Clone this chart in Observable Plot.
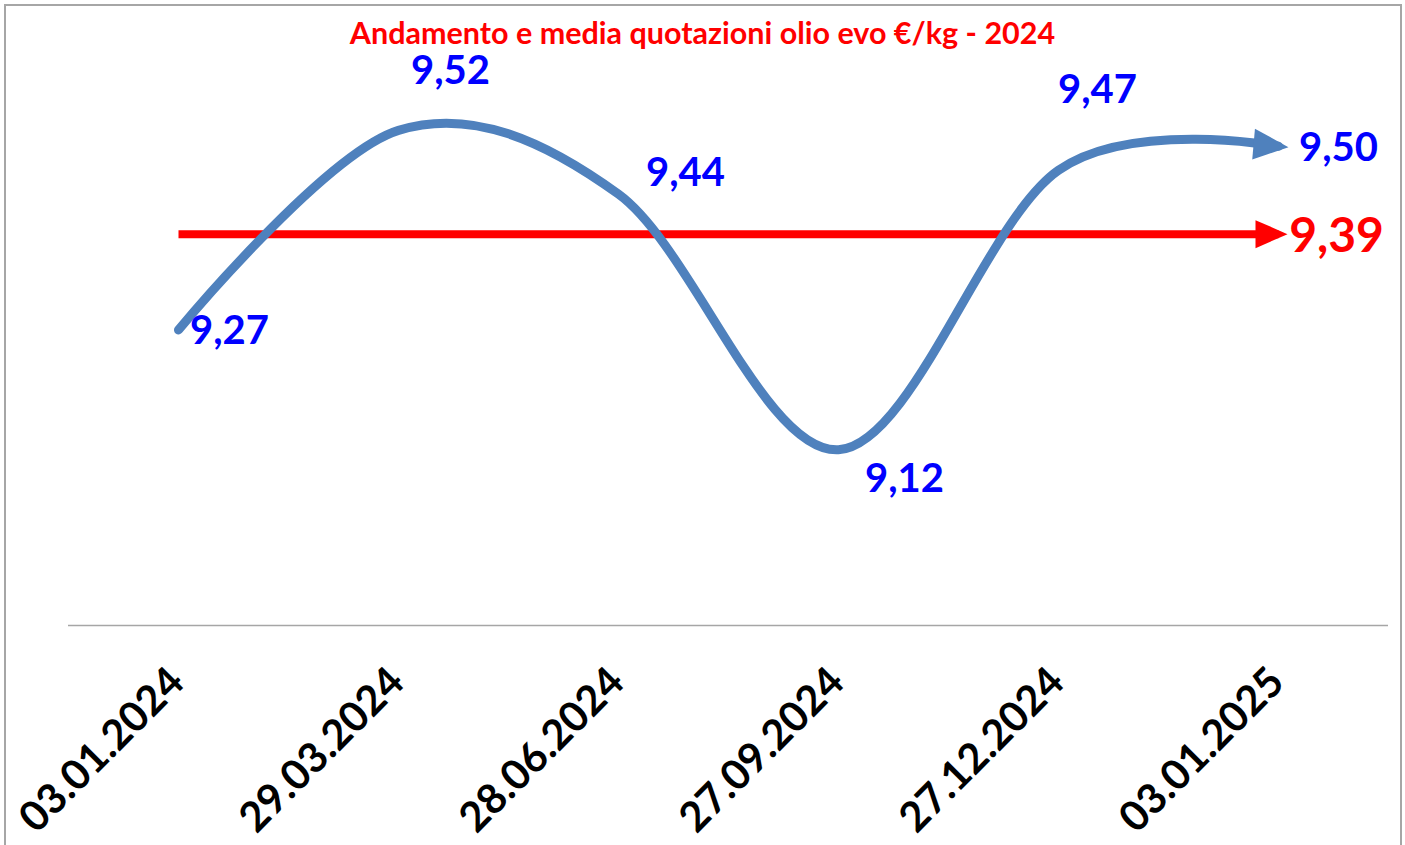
<!DOCTYPE html>
<html>
<head>
<meta charset="utf-8">
<script src="https://cdn.jsdelivr.net/npm/d3@7"></script>
<script src="https://cdn.jsdelivr.net/npm/@observablehq/plot@0.6"></script>
<style>
  html, body { margin: 0; padding: 0; background: #fff; overflow: hidden; }
  #wrap { position: relative; width: 1405px; height: 845px; }
  #title { position: absolute; left: 0; top: 17px; width: 1405px; text-align: center;
    font-family: Lato, "Open Sans", sans-serif; font-weight: bold; font-size: 30.5px; line-height: 1;
    color: #ff0000; z-index: 2; }
  #border { position: absolute; left: 4px; top: 4px; width: 1398px; height: 870px;
    box-sizing: border-box; border: 2px solid #a6a6a6; pointer-events: none; z-index: 3; }
  #chart svg { display: block; }
</style>
</head>
<body>
<div id="wrap">
  <div id="title">Andamento e media quotazioni olio evo €/kg - 2024</div>
  <div id="chart"></div>
  <div id="border"></div>
</div>
<script>
// ---- data ----
const dates = ["03.01.2024", "29.03.2024", "28.06.2024", "27.09.2024", "27.12.2024", "03.01.2025"];
const prices = [9.27, 9.52, 9.44, 9.12, 9.47, 9.50];
const meanPrice = 9.39;

// ---- layout (label nudges, in px) ----
const labelNudge = [[51, 1], [52, -59], [67, -21], [66, 29], [39, -80], [60, 2]];

const fmt = v => v.toFixed(2).replace(".", ",");
const rows = dates.map((d, i) => ({date: d, price: prices[i], i}));
const meanRows = dates.map(d => ({date: d, price: meanPrice}));
const last = rows[rows.length - 1];

const arrowHead = (len, half, tip) => ({
  draw(ctx) {
    ctx.moveTo(tip, 0);
    ctx.lineTo(tip - len, -half);
    ctx.lineTo(tip - len, half);
    ctx.closePath();
  }
});

const blue = "#4f81bd";
const font = "Lato, 'Open Sans', sans-serif";

const plot = Plot.plot({
  width: 1405,
  height: 845,
  marginLeft: 68,
  marginRight: 17,
  marginTop: 26,
  marginBottom: 220,
  style: {fontFamily: font, background: "white"},
  x: {type: "point", domain: dates, padding: 0.5, axis: null},
  y: {domain: [8.9, 9.65], axis: null},
  marks: [
    Plot.ruleY([8.9], {stroke: "#a6a6a6", strokeWidth: 1.3}),
    // x tick labels
    Plot.text(dates, {
      x: d => d, frameAnchor: "bottom", rotate: -45, textAnchor: "end", lineAnchor: "bottom",
      dx: 8, dy: 59, fontSize: 41.5, fontWeight: "bold", fill: "black", text: d => d
    }),
    // mean line
    Plot.line(meanRows, {x: "date", y: "price", stroke: "#ff0000", strokeWidth: 8, strokeLinecap: "butt"}),
    Plot.dot([{date: last.date, price: meanPrice}], {
      x: "date", y: "price", symbol: arrowHead(32, 14, 9), fill: "#ff0000", stroke: "none"
    }),
    // price curve
    Plot.line(rows, {
      x: "date", y: "price", stroke: blue, strokeWidth: 9, strokeLinecap: "round",
      curve: d3.curveCardinal.tension(0)
    }),
    Plot.dot([last], {
      x: "date", y: "price", symbol: arrowHead(35, 15.5, 10), rotate: 5, fill: blue, stroke: "none"
    }),
    // value labels
    ...rows.map((r, i) => Plot.text([r], {
      x: "date", y: "price", text: d => fmt(d.price), dx: labelNudge[i][0], dy: labelNudge[i][1],
      fontSize: 40, fontWeight: "bold", fill: "#0000ff", textAnchor: "middle", lineAnchor: "middle"
    })),
    Plot.text([{date: last.date, price: meanPrice}], {
      x: "date", y: "price", text: d => fmt(d.price), dx: 58, dy: 2,
      fontSize: 48, fontWeight: "bold", fill: "#ff0000", textAnchor: "middle", lineAnchor: "middle"
    })
  ]
});
document.getElementById("chart").appendChild(plot);
</script>
</body>
</html>
